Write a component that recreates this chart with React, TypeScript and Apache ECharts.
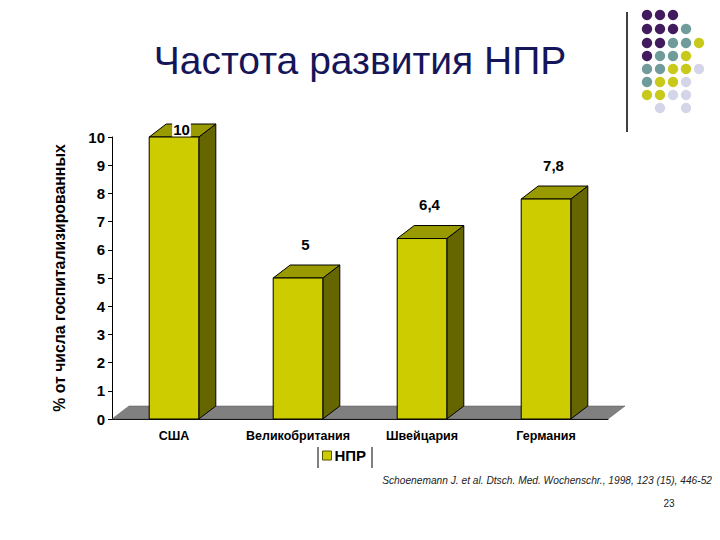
import React, { useEffect, useRef } from "react";
import * as echarts from "echarts";

const categories = ["США", "Великобритания", "Швейцария", "Германия"];
const values = [10, 5, 6.4, 7.8];
const seriesName = "НПР";
const yTicks = { min: 0, max: 10, interval: 1 };

const titleText = "Частота развития НПР";
const yAxisName = "% от числа госпитализированных";
const citation = "Schoenemann J. et al. Dtsch. Med. Wochenschr., 1998, 123 (15), 446-52";
const pageNumber = "23";

// decorative dot grid (rows of colour keys)
const dotRows = [
  ["P", "P", "P", "", ""],
  ["P", "P", "P", "T", ""],
  ["P", "P", "T", "T", "Y"],
  ["P", "T", "T", "Y", ""],
  ["T", "T", "Y", "Y", "L"],
  ["T", "Y", "Y", "L", ""],
  ["Y", "Y", "L", "L", ""],
  ["", "L", "", "L", ""],
];
const dotColors: Record<string, string> = {
  P: "#421b5e",
  T: "#6f9c9b",
  Y: "#c9c91c",
  L: "#d5d5e9",
};

const FONT = "'Liberation Sans', Arial, sans-serif";
const DX = 17;
const DY = 13;

export default function App() {
  const ref = useRef<HTMLDivElement>(null);
  useEffect(() => {
    if (!ref.current) return;
    const chart = echarts.init(ref.current, undefined, { renderer: "svg" });

    const dots: any[] = [];
    const colX = [647, 660, 673, 686, 699];
    const rowY = [15, 29, 43, 56, 69, 82, 95, 108];
    dotRows.forEach((row, r) =>
      row.forEach((c, k) => {
        if (!c) return;
        dots.push({
          type: "circle",
          shape: { cx: colX[k], cy: rowY[r], r: 5.2 },
          style: { fill: dotColors[c] },
          silent: true,
        });
      })
    );

    const option: any = {
      animation: false,
      backgroundColor: "#ffffff",
      title: {
        text: titleText,
        left: "center",
        top: 36,
        textStyle: {
          fontFamily: FONT,
          fontSize: 39,
          fontWeight: "normal",
          color: "#15155a",
        },
      },
      grid: { left: 112, right: 112, top: 137, bottom: 121, containLabel: false },
      legend: {
        data: [seriesName],
        left: 322,
        top: 448,
        icon: "rect",
        itemWidth: 9,
        itemHeight: 9,
        itemGap: 4,
        padding: 0,
        itemStyle: { color: "#cccc00", borderColor: "#555500", borderWidth: 1 },
        textStyle: {
          fontFamily: FONT,
          fontSize: 15,
          fontWeight: "bold",
          color: "#000",
          padding: [0, 0, 0, -2],
        },
      },
      xAxis: {
        type: "category",
        data: categories,
        boundaryGap: true,
        axisLine: { show: true, lineStyle: { color: "#000", width: 1 } },
        axisTick: { show: false },
        axisLabel: {
          fontFamily: FONT,
          fontSize: 12.5,
          fontWeight: "bold",
          color: "#000",
          margin: 10,
          interval: 0,
        },
      },
      yAxis: {
        type: "value",
        min: yTicks.min,
        max: yTicks.max,
        interval: yTicks.interval,
        name: yAxisName,
        nameLocation: "middle",
        nameRotate: 90,
        nameGap: 45,
        nameTextStyle: {
          fontFamily: FONT,
          fontSize: 15.8,
          fontWeight: "bold",
          color: "#000",
        },
        axisLine: { show: true, lineStyle: { color: "#000", width: 1 } },
        axisTick: { show: true, length: 4, lineStyle: { color: "#000" } },
        splitLine: { show: false },
        axisLabel: {
          fontFamily: FONT,
          fontSize: 15,
          fontWeight: "bold",
          color: "#000",
          margin: 7,
        },
      },
      series: [
        {
          type: "custom",
          name: "floor",
          z: 1,
          silent: true,
          data: [[0, 0]],
          renderItem: (params: any) => {
            const cs = params.coordSys;
            const yb = cs.y + cs.height;
            return {
              type: "polygon",
              shape: {
                points: [
                  [cs.x, yb],
                  [cs.x + cs.width, yb],
                  [cs.x + cs.width + DX, yb - DY],
                  [cs.x + DX, yb - DY],
                ],
              },
              style: { fill: "#808080", stroke: "#555", lineWidth: 0.5 },
            };
          },
        },
        {
          type: "custom",
          name: seriesName,
          z: 3,
          itemStyle: { color: "#cccc00" },
          data: values.map((v, i) => [i, v]),
          renderItem: (params: any, api: any) => {
            const idx = api.value(0);
            const v = api.value(1);
            const top = api.coord([idx, v]);
            const base = api.coord([idx, 0]);
            const w = api.size([1, 0])[0] * 0.4;
            const x0 = top[0] - w / 2;
            const x1 = top[0] + w / 2;
            const yt = top[1];
            const yb = base[1];
            const cs = params.coordSys;
            const labelY = Math.max(yt - DY - 21, cs.y - 8);
            const stroke = { stroke: "#000", lineWidth: 1 };
            return {
              type: "group",
              children: [
                {
                  type: "polygon",
                  shape: {
                    points: [
                      [x1, yt],
                      [x1 + DX, yt - DY],
                      [x1 + DX, yb - DY],
                      [x1, yb],
                    ],
                  },
                  style: { fill: "#666600", ...stroke },
                },
                {
                  type: "polygon",
                  shape: {
                    points: [
                      [x0, yt],
                      [x0 + DX, yt - DY],
                      [x1 + DX, yt - DY],
                      [x1, yt],
                    ],
                  },
                  style: { fill: "#999900", ...stroke },
                },
                {
                  type: "rect",
                  shape: { x: x0, y: yt, width: w, height: yb - yt },
                  style: { fill: "#cccc00", ...stroke },
                },
                {
                  type: "text",
                  x: top[0] + DX / 2 - 1,
                  y: labelY,
                  z2: 10,
                  style: {
                    text: String(v).replace(".", ","),
                    fill: "#000",
                    fontFamily: FONT,
                    fontSize: 15,
                    fontWeight: "bold",
                    align: "center",
                    verticalAlign: "middle",
                    backgroundColor: "#ffffff",
                    padding: [0, 1],
                  },
                },
              ],
            };
          },
        },
      ],
      graphic: [
        ...dots,
        {
          type: "line",
          shape: { x1: 627, y1: 12, x2: 627, y2: 132 },
          style: { stroke: "#000", lineWidth: 1.5 },
          silent: true,
        },
        {
          type: "line",
          shape: { x1: 318, y1: 447, x2: 318, y2: 468 },
          style: { stroke: "#000", lineWidth: 1 },
          silent: true,
        },
        {
          type: "line",
          shape: { x1: 372, y1: 447, x2: 372, y2: 468 },
          style: { stroke: "#000", lineWidth: 1 },
          silent: true,
        },
        {
          type: "text",
          x: 712,
          y: 480,
          style: {
            text: citation,
            fill: "#222",
            fontFamily: FONT,
            fontSize: 10.2,
            fontStyle: "italic",
            align: "right",
            verticalAlign: "middle",
          },
          silent: true,
        },
        {
          type: "text",
          x: 669,
          y: 503,
          style: {
            text: pageNumber,
            fill: "#222",
            fontFamily: FONT,
            fontSize: 10,
            align: "center",
            verticalAlign: "middle",
          },
          silent: true,
        },
      ],
    };

    chart.setOption(option);
    return () => chart.dispose();
  }, []);

  return (
    <div
      ref={ref}
      style={{ position: "fixed", left: 0, top: 0, width: 720, height: 540, background: "#fff" }}
    />
  );
}
